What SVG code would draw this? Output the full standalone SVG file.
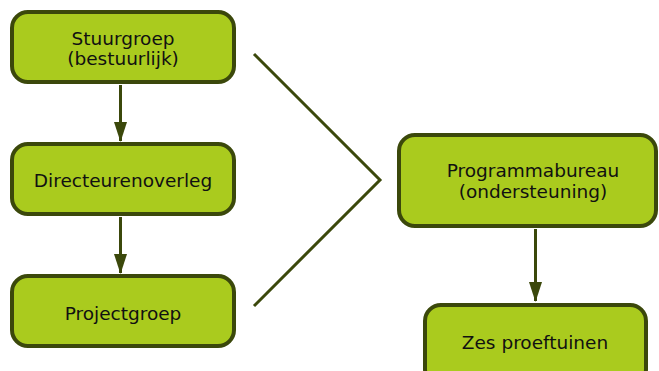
<svg xmlns="http://www.w3.org/2000/svg" width="659" height="371" viewBox="0 0 659 371">
  <style>
    .box { fill: #aacb1e; stroke: #3b480b; stroke-width: 4; }
    .lbl { font-family: "DejaVu Sans", Verdana, sans-serif; font-size: 18.5px; fill: #111; text-anchor: middle; }
    .conn { stroke: #3b480b; stroke-width: 3; fill: none; }
  </style>
  <defs>
    <marker id="arrow" viewBox="0 0 20 13" refX="19" refY="6.5" markerWidth="20" markerHeight="13" markerUnits="userSpaceOnUse" orient="auto">
      <path d="M0,0 L20,6.5 L0,13 Z" fill="#3b480b"/>
    </marker>
  </defs>
  <rect width="659" height="371" fill="#ffffff"/>

  <g id="connectors">
    <line class="conn" x1="120.5" y1="85" x2="120.5" y2="141" marker-end="url(#arrow)"/>
    <line class="conn" x1="120.5" y1="217" x2="120.5" y2="273" marker-end="url(#arrow)"/>
    <line class="conn" x1="535.5" y1="229" x2="535.5" y2="301" marker-end="url(#arrow)"/>
    <polyline class="conn" points="254,54 380,180 254,306"/>
  </g>

  <g id="stuurgroep">
    <rect class="box" x="12" y="12" width="222" height="70" rx="16"/>
    <text class="lbl" x="123" y="44.5">Stuurgroep</text>
    <text class="lbl" x="123" y="64.5">(bestuurlijk)</text>
  </g>

  <g id="directeurenoverleg">
    <rect class="box" x="12" y="144" width="222" height="70" rx="16"/>
    <text class="lbl" x="123" y="187">Directeurenoverleg</text>
  </g>

  <g id="projectgroep">
    <rect class="box" x="12" y="276" width="222" height="70" rx="16"/>
    <text class="lbl" x="123" y="319.5">Projectgroep</text>
  </g>

  <g id="programmabureau">
    <rect class="box" x="399" y="135" width="257" height="91" rx="16"/>
    <text class="lbl" x="533" y="176.5">Programmabureau</text>
    <text class="lbl" x="533" y="198">(ondersteuning)</text>
  </g>

  <g id="proeftuinen">
    <rect class="box" x="425" y="305" width="221" height="80" rx="16"/>
    <text class="lbl" x="535" y="349">Zes proeftuinen</text>
  </g>
</svg>
